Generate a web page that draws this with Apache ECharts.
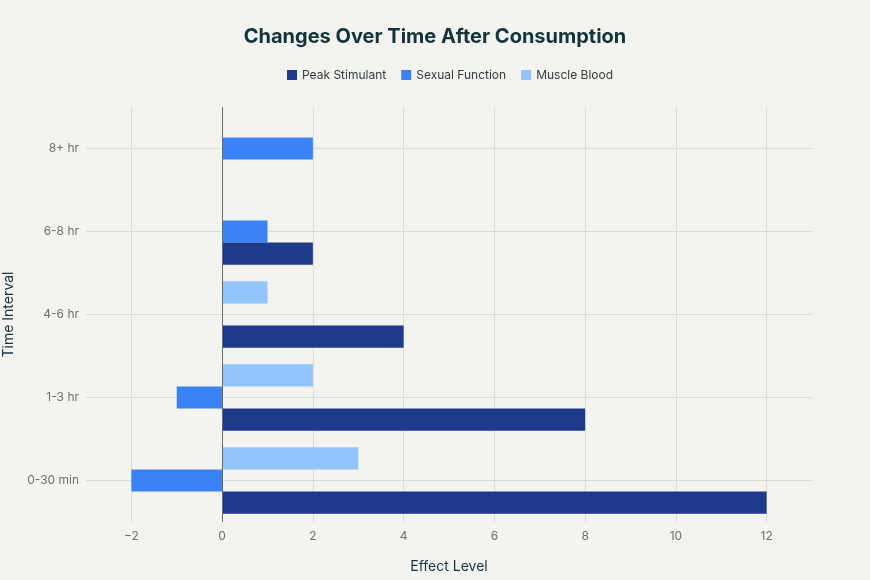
<!DOCTYPE html>
<html>
<head>
<meta charset="utf-8">
<script src="https://cdn.jsdelivr.net/npm/echarts@6/dist/echarts.min.js"></script>
<style>
html,body{margin:0;padding:0;background:#f3f3ef;}
#c{width:870px;height:580px;}
</style>
</head>
<body>
<div id="c"></div>
<script>
const categories = ['0-30 min', '1-3 hr', '4-6 hr', '6-8 hr', '8+ hr'];
const peakStimulant = [12, 8, 4, 2, 0];
const sexualFunction = [-2, -1, 0, 1, 2];
const muscleBlood = [3, 2, 1, 0, 0];
const xTicks = [-2, 2, 4, 6, 8, 10, 12];

const gridColor = '#dcdcd6';
const labelColor = '#6e6e6e';
const titleColor = '#13343b';

const chart = echarts.init(document.getElementById('c'));

const hLines = categories.map(c => ({ yAxis: c }));
const vLines = xTicks.map(v => ({ xAxis: v }));

const option = {
  backgroundColor: '#f3f3ef',
  animation: false,
  textStyle: { fontFamily: 'Inter, "Liberation Sans", sans-serif' },
  title: {
    text: 'Changes Over Time After Consumption',
    left: 'center',
    top: 22,
    textStyle: { fontSize: 20, fontWeight: 'bold', color: titleColor, fontFamily: 'Inter, "Liberation Sans", sans-serif' }
  },
  legend: {
    top: 64,
    left: 282,
    itemWidth: 10,
    itemHeight: 10,
    itemGap: 15,
    icon: 'rect',
    textStyle: { fontSize: 12, color: '#333c40' },
    data: ['Peak Stimulant', 'Sexual Function', 'Muscle Blood']
  },
  grid: { left: 86, right: 58, top: 107, bottom: 58, containLabel: false, outerBoundsMode: 'none' },
  xAxis: {
    type: 'value',
    min: -3,
    max: 13,
    interval: 1,
    name: 'Effect Level',
    nameLocation: 'middle',
    nameGap: 38,
    nameTextStyle: { fontSize: 14, color: titleColor },
    axisLine: { show: false },
    axisTick: { show: false },
    splitLine: { show: false },
    axisLabel: {
      color: labelColor,
      fontSize: 12,
      margin: 8,
      showMinLabel: false,
      showMaxLabel: false,
      formatter: v => {
        if (v % 2 !== 0) return '';
        return v < 0 ? '\u2212' + Math.abs(v) : String(v);
      }
    }
  },
  yAxis: {
    type: 'category',
    data: categories,
    name: 'Time Interval',
    nameLocation: 'middle',
    nameGap: 67,
    nameTextStyle: { fontSize: 14, color: titleColor },
    axisLine: { show: false },
    axisTick: { show: false },
    splitLine: { show: false },
    axisLabel: { color: labelColor, fontSize: 12, margin: 7 }
  },
  series: [
    {
      name: 'Muscle Blood',
      type: 'bar',
      data: muscleBlood,
      itemStyle: { color: '#93c5fd' },
      barGap: '0%',
      barCategoryGap: '20%',
      z: 2,
      emphasis: { disabled: true },
      markLine: {
        silent: true,
        symbol: 'none',
        z: 3,
        label: { show: false },
        lineStyle: { color: '#6b6b6b', width: 1, type: 'solid' },
        data: [{ xAxis: 0 }]
      }
    },
    {
      name: 'Sexual Function',
      type: 'bar',
      data: sexualFunction,
      itemStyle: { color: '#3b82f6' },
      barGap: '0%',
      barCategoryGap: '20%',
      z: 2,
      emphasis: { disabled: true },
      markLine: {
        silent: true,
        symbol: 'none',
        z: 1,
        label: { show: false },
        lineStyle: { color: gridColor, width: 1, type: 'solid' },
        data: hLines.concat(vLines)
      }
    },
    {
      name: 'Peak Stimulant',
      type: 'bar',
      data: peakStimulant,
      itemStyle: { color: '#1e3a8a' },
      barGap: '0%',
      barCategoryGap: '20%',
      z: 2,
      emphasis: { disabled: true }
    }
  ]
};
chart.setOption(option);
</script>
</body>
</html>
